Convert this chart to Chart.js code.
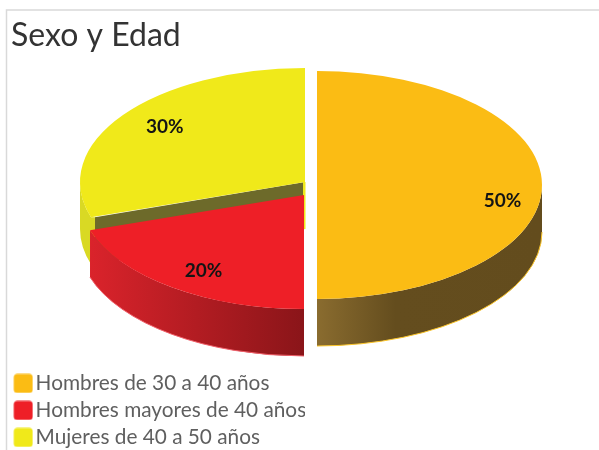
<!DOCTYPE html>
<html><head><meta charset="utf-8">
<style>html,body{margin:0;padding:0;background:#fff}canvas{display:block}</style>
<script src="https://cdn.jsdelivr.net/npm/chart.js@4"></script>
</head><body><canvas id="c" width="599" height="450"></canvas>
<script>
const chartTitle = "Sexo y Edad";
const categories = ["Hombres de 30 a 40 años", "Hombres mayores de 40 años", "Mujeres de 40 a 50 años"];
const values = [50, 20, 30];
const topColors = ["#fbbc14", "#ee1f27", "#f0e91a"];
const edgeColors = ["#fbc52a", "#f0606a", "#f0e91a"];

// 3D look: ellipse size, depth, per-slice centre, label nudges
const RX = 225, RY = 114, DEPTH = 47;
const centres = [[317, 185], [304, 195], [305, 182]];
const labelNudge = [[1, 16], [8, 0], [9, 0]];
const LABEL_FRACTION = 0.82;

function wallFill(ctx, i) {
  if (i === 0) {
    const g = ctx.createLinearGradient(317, 0, 541, 0);
    g.addColorStop(0, "#8a6c2f"); g.addColorStop(0.35, "#644d1e"); g.addColorStop(1, "#634c1d");
    return g;
  }
  if (i === 1) {
    const g = ctx.createLinearGradient(90, 0, 304, 0);
    g.addColorStop(0, "#da232b"); g.addColorStop(1, "#8a1519");
    return g;
  }
  return "#d9d924";
}

const pie3d = {
  id: "pie3d",
  beforeDraw(chart) {
    const ctx = chart.ctx;
    ctx.save();
    ctx.fillStyle = "#fff"; ctx.fillRect(0, 0, chart.width, chart.height);
    ctx.strokeStyle = "#d9d9d9"; ctx.lineWidth = 1.5;
    ctx.beginPath(); ctx.moveTo(6.5, chart.height); ctx.lineTo(6.5, 10); ctx.lineTo(chart.width, 10); ctx.stroke();
    ctx.restore();
  },
  beforeDatasetDraw(chart, args) {
    const ctx = chart.ctx, arcs = args.meta.data;
    [2, 1, 0].forEach(i => {
      const a = arcs[i], [cx, cy] = centres[i];
      const s = Math.max(a.startAngle, 0), e = Math.min(a.endAngle, Math.PI);
      if (i === 2) { // cut face of the yellow slice, seen above the red one
        const x = cx + RX * Math.cos(a.startAngle), y = cy + RY * Math.sin(a.startAngle);
        ctx.save();
        ctx.fillStyle = wallFill(ctx, 2);
        ctx.fillRect(x - 1, y, 6, DEPTH);
        ctx.fillStyle = "#6d6a2a";
        ctx.beginPath(); ctx.moveTo(cx, cy); ctx.lineTo(x + 4, y); ctx.lineTo(x + 4, y + DEPTH);
        ctx.lineTo(cx, cy + DEPTH); ctx.closePath(); ctx.fill();
        ctx.fillStyle = topColors[2];
        ctx.fillRect(cx - 2, cy, 2.5, DEPTH);
        ctx.restore();
      }
      if (e > s) {
        ctx.save();
        ctx.beginPath();
        ctx.ellipse(cx, cy, RX, RY, 0, s, e, false);
        ctx.ellipse(cx, cy + DEPTH, RX, RY, 0, e, s, true);
        ctx.closePath();
        ctx.fillStyle = wallFill(ctx, i);
        ctx.fill();
        ctx.strokeStyle = edgeColors[i]; ctx.lineWidth = 1;
        if (i !== 2) {
          ctx.beginPath();
          ctx.ellipse(cx, cy + DEPTH, RX, RY, 0, s, e, false);
          ctx.stroke();
        }
        ctx.restore();
      }
      ctx.save();
      ctx.translate(cx, cy);
      ctx.scale(RX / a.outerRadius, RY / a.outerRadius);
      ctx.translate(-a.x, -a.y);
      a.draw(ctx);
      ctx.restore();
    });
    const total = values.reduce((p, v) => p + v, 0);
    ctx.save();
    ctx.font = "bold 19px Lato";
    ctx.fillStyle = "#141414";
    ctx.textAlign = "center"; ctx.textBaseline = "middle";
    arcs.forEach((a, i) => {
      const mid = (a.startAngle + a.endAngle) / 2, [cx, cy] = centres[i];
      ctx.fillText(Math.round(values[i] / total * 100) + "%",
        cx + RX * LABEL_FRACTION * Math.cos(mid) + labelNudge[i][0],
        cy + RY * LABEL_FRACTION * Math.sin(mid) + labelNudge[i][1]);
    });
    ctx.restore();
    return false;
  }
};

function swatch(color) {
  const s = document.createElement("canvas");
  s.width = 24; s.height = 20;
  const x = s.getContext("2d");
  x.fillStyle = color;
  x.beginPath(); x.roundRect(4.5, 0.5, 19, 19, 3.5); x.fill();
  return s;
}

new Chart(document.getElementById("c"), {
  type: "pie",
  plugins: [pie3d],
  data: { labels: categories, datasets: [{ data: values, backgroundColor: topColors, borderWidth: 0 }] },
  options: {
    responsive: false, animation: false, devicePixelRatio: 1,
    layout: { padding: { left: 11, right: 0, top: 14, bottom: -4 } },
    plugins: {
      tooltip: { enabled: false },
      title: { display: true, text: chartTitle, align: "start", color: "#333333",
        font: { family: "Lato", size: 32, weight: "normal" }, padding: { top: 2, bottom: 4 } },
      legend: {
        position: "left", align: "end",
        labels: {
          font: { family: "Lato", size: 20.8 }, color: "#5f5f5f", boxWidth: 8, padding: 6.2, usePointStyle: true,
          generateLabels: chart => categories.map((t, i) => ({
            text: t, fontColor: "#5f5f5f", pointStyle: swatch(topColors[i]), lineWidth: 0, strokeStyle: "transparent", index: i
          }))
        }
      }
    }
  }
});
</script>
</body></html>
